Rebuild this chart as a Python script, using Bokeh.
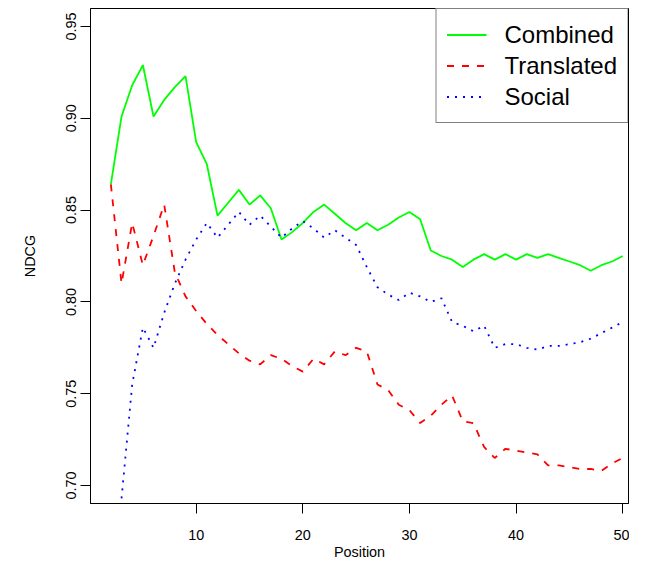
from bokeh.plotting import figure
from bokeh.models import Range1d, FixedTicker, Legend, LegendItem, NumeralTickFormatter
from bokeh.embed import file_html
from bokeh.resources import INLINE

# ---- data ----
positions_combined = list(range(2, 51))
combined = [0.864, 0.901, 0.918, 0.929, 0.901, 0.910, 0.917, 0.923, 0.887, 0.875,
            0.847, 0.854, 0.861, 0.853, 0.858, 0.851, 0.834, 0.838, 0.843, 0.849,
            0.853, 0.848, 0.843, 0.839, 0.843, 0.839, 0.842, 0.846, 0.849, 0.845,
            0.828, 0.825, 0.823, 0.819, 0.823, 0.826, 0.823, 0.826, 0.823, 0.826,
            0.824, 0.826, 0.824, 0.822, 0.820, 0.817, 0.820, 0.822, 0.825]

positions_translated = list(range(2, 51))
translated = [0.864, 0.810, 0.843, 0.820, 0.836, 0.853, 0.816, 0.803, 0.795, 0.788,
              0.782, 0.777, 0.772, 0.768, 0.766, 0.771, 0.769, 0.765, 0.762, 0.769,
              0.766, 0.773, 0.771, 0.775, 0.773, 0.755, 0.752, 0.744, 0.741, 0.734,
              0.738, 0.744, 0.749, 0.735, 0.734, 0.721, 0.715, 0.720, 0.719, 0.718,
              0.717, 0.711, 0.711, 0.710, 0.709, 0.709, 0.708, 0.712, 0.715]

positions_social = list(range(3, 51))
social = [0.693, 0.755, 0.786, 0.775, 0.794, 0.810, 0.823, 0.834, 0.843, 0.835,
          0.842, 0.849, 0.842, 0.847, 0.841, 0.835, 0.840, 0.844, 0.840, 0.835,
          0.839, 0.835, 0.831, 0.819, 0.808, 0.804, 0.801, 0.805, 0.803, 0.800,
          0.802, 0.789, 0.787, 0.784, 0.787, 0.775, 0.777, 0.777, 0.775, 0.774,
          0.776, 0.776, 0.777, 0.778, 0.780, 0.783, 0.786, 0.789]

series_names = ["Combined", "Translated", "Social"]
x_ticks = [10, 20, 30, 40, 50]
y_ticks = [0.70, 0.75, 0.80, 0.85, 0.90, 0.95]

FONT = "Liberation Sans"

p = figure(width=629, height=563, output_backend="svg", toolbar_location=None,
           x_range=Range1d(0.09, 50.54), y_range=Range1d(0.6902, 0.9598),
           min_border_left=90, min_border_right=1, min_border_top=8, min_border_bottom=60)
p.background_fill_color = "white"
p.border_fill_color = "white"
p.outline_line_color = "black"
p.outline_line_width = 1
p.xgrid.visible = False
p.ygrid.visible = False

r1 = p.line(positions_combined, combined, line_color="#00FF00", line_width=1.8)
r2 = p.line(positions_translated, translated, line_color="#FF0000", line_width=1.8,
            line_dash="7 8")
r3 = p.line(positions_social, social, line_color="#0000FF", line_width=1.8,
            line_dash="2 6")

for ax in (p.xaxis[0], p.yaxis[0]):
    ax.axis_line_color = "black"
    ax.major_tick_line_color = "black"
    ax.major_tick_in = 0
    ax.major_tick_out = 10
    ax.minor_tick_line_color = None
    ax.major_label_text_font = FONT
    ax.major_label_text_font_size = "14.4px"
    ax.major_label_text_color = "black"
    ax.axis_label_text_font = FONT
    ax.axis_label_text_font_size = "14.4px"
    ax.axis_label_text_font_style = "normal"
    ax.axis_label_text_color = "black"

p.xaxis.ticker = FixedTicker(ticks=x_ticks)
p.yaxis.ticker = FixedTicker(ticks=y_ticks)
p.yaxis.formatter = NumeralTickFormatter(format="0.00")
p.yaxis.major_label_orientation = "vertical"
p.xaxis.axis_label = "Position"
p.yaxis.axis_label = "NDCG"
p.xaxis.major_label_standoff = 16
p.xaxis.axis_label_standoff = 1
p.yaxis.major_label_standoff = 4
p.yaxis.axis_label_standoff = 26

legend = Legend(items=[LegendItem(label=series_names[0], renderers=[r1]),
                       LegendItem(label=series_names[1], renderers=[r2]),
                       LegendItem(label=series_names[2], renderers=[r3])],
                location="top_right", margin=0, padding=10, spacing=0,
                glyph_width=40, glyph_height=31, label_height=31,
                label_standoff=18, label_text_font=FONT,
                label_text_font_size="24px", label_text_color="black",
                border_line_color="black", border_line_width=1,
                background_fill_color="white", background_fill_alpha=1.0)
p.add_layout(legend)

open("out.html", "w").write(file_html(p, INLINE))
